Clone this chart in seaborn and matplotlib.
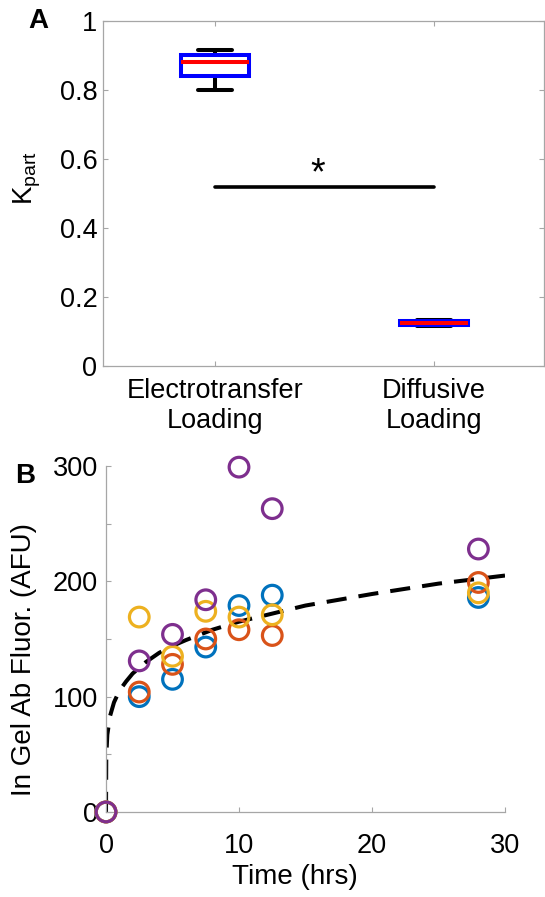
import matplotlib
matplotlib.use("Agg")
import matplotlib.pyplot as plt
import numpy as np
import pandas as pd
import seaborn as sns

# Panel A: partition coefficient per loading method
groups = ["Electrotransfer\nLoading", "Diffusive\nLoading"]
kpart_electro = [0.80, 0.84, 0.88, 0.90, 0.916]
kpart_diffusive = [0.117, 0.119, 0.125, 0.131, 0.133]
sig_y = 0.52

# Panel B: in-gel antibody fluorescence over time, four replicates
times = [0, 2.5, 5, 7.5, 10, 12.5, 28]
rep_blue = [0, 100, 115, 143, 179, 188, 186]
rep_red = [0, 104, 128, 150, 158, 153, 199]
rep_yellow = [0, 169, 135, 174, 169, 171, 190]
rep_purple = [0, 131, 154, 184, 299, 263, 228]
rep_colors = ["#0072BD", "#D95319", "#EDB120", "#7E2F8E"]

# fitted curve
fit_t = [0, 0.02, 0.1, 0.3, 0.6, 1, 1.5, 2, 3, 4, 5, 6, 8, 10, 12.5, 15, 20, 25, 30]
fit_y = [0, 48, 67, 83, 95, 105, 113, 120, 130, 138, 144, 149, 158, 165, 172, 179, 189, 198, 205]

sns.set_style("ticks")
plt.rcParams["font.family"] = ["Liberation Sans", "DejaVu Sans"]
plt.rcParams["font.size"] = 19.5
plt.rcParams["text.color"] = "black"
plt.rcParams["axes.labelcolor"] = "black"
plt.rcParams["axes.edgecolor"] = "#a6a6a6"
plt.rcParams["axes.linewidth"] = 0.9
plt.rcParams["xtick.color"] = "#a6a6a6"
plt.rcParams["ytick.color"] = "#a6a6a6"
plt.rcParams["xtick.labelcolor"] = "black"
plt.rcParams["ytick.labelcolor"] = "black"

fig = plt.figure(figsize=(5.45, 8.97), dpi=100)
ax1 = fig.add_axes([0.189, 0.592, 0.809, 0.3846])
ax2 = fig.add_axes([0.1945, 0.0948, 0.7321, 0.3857])

# ---- panel A
df_a = pd.DataFrame({
    "group": [groups[0]] * len(kpart_electro) + [groups[1]] * len(kpart_diffusive),
    "kpart": kpart_electro + kpart_diffusive,
})
sns.boxplot(data=df_a, x="group", y="kpart", ax=ax1, width=0.31, whis=1.5,
            linewidth=2.9, linecolor="black", showfliers=False,
            boxprops=dict(facecolor="white", edgecolor="#0000FF", zorder=3),
            medianprops=dict(color="#FF0000", zorder=4),
            whiskerprops=dict(color="black", zorder=2),
            capprops=dict(color="black", zorder=2))
for p in ax1.patches:
    p.set_edgecolor("#0000FF")
    p.set_facecolor("white")
    p.set_linewidth(2.9)

sns.lineplot(x=[0, 1], y=[sig_y, sig_y], ax=ax1, color="black", linewidth=2.6)
ax1.text(0.468, sig_y + 0.035, "*", ha="center", va="center", fontsize=27, color="black")

ax1.set_xlim(-0.51, 1.5)
ax1.set_ylim(0, 1)
ax1.set_yticks([0, 0.2, 0.4, 0.6, 0.8, 1])
ax1.set_yticklabels(["0", "0.2", "0.4", "0.6", "0.8", "1"])
ax1.set_xlabel("")
ax1.set_ylabel("K$_\\mathregular{part}$", fontsize=20, color="black")
ax1.yaxis.set_label_coords(-0.135, 0.545)
ax1.tick_params(direction="in", length=3.5, width=0.8, top=True, right=True, pad=4)
ax1.tick_params(axis="x", pad=9)

# ---- panel B
series = [rep_blue, rep_red, rep_yellow, rep_purple]
df_b = pd.DataFrame({
    "time": times * 4,
    "fluor": sum(series, []),
    "rep": np.repeat(["r1", "r2", "r3", "r4"], len(times)),
})
sns.lineplot(x=fit_t, y=fit_y, ax=ax2, color="black", linewidth=2.9, sort=True)
ax2.lines[0].set_dashes([5, 3])
sns.scatterplot(data=df_b, x="time", y="fluor", hue="rep", palette=rep_colors,
                marker="o", s=200, linewidth=2.3, legend=False, ax=ax2, zorder=5)
coll = ax2.collections[-1]
coll.set_edgecolors(coll.get_facecolors())
coll.set_facecolor("none")
coll.set_clip_on(False)

ax2.set_xlim(0, 30)
ax2.set_ylim(0, 300)
ax2.set_xticks([0, 10, 20, 30])
ax2.set_yticks([0, 100, 200, 300])
ax2.set_yticks([50, 150, 250], minor=True)
ax2.spines["top"].set_visible(False)
ax2.spines["right"].set_visible(False)
ax2.tick_params(direction="in", length=3.5, width=0.8, pad=6)
ax2.tick_params(axis="x", pad=15)
ax2.tick_params(which="minor", direction="in", length=3.5, width=0.8, color="#a6a6a6")
ax2.set_xlabel("Time (hrs)", fontsize=20, color="black")
ax2.xaxis.set_label_coords(0.474, -0.15)
ax2.set_ylabel("In Gel Ab Fluor. (AFU)", fontsize=20, color="black")
ax2.yaxis.set_label_coords(-0.173, 0.44)

fig.text(38 / 545, 1 - 21 / 897, "A", ha="center", va="center", fontsize=20,
         fontweight="bold", color="black")
fig.text(25 / 545, 1 - 476 / 897, "B", ha="center", va="center", fontsize=20,
         fontweight="bold", color="black")

fig.savefig("out.png", dpi=100)
